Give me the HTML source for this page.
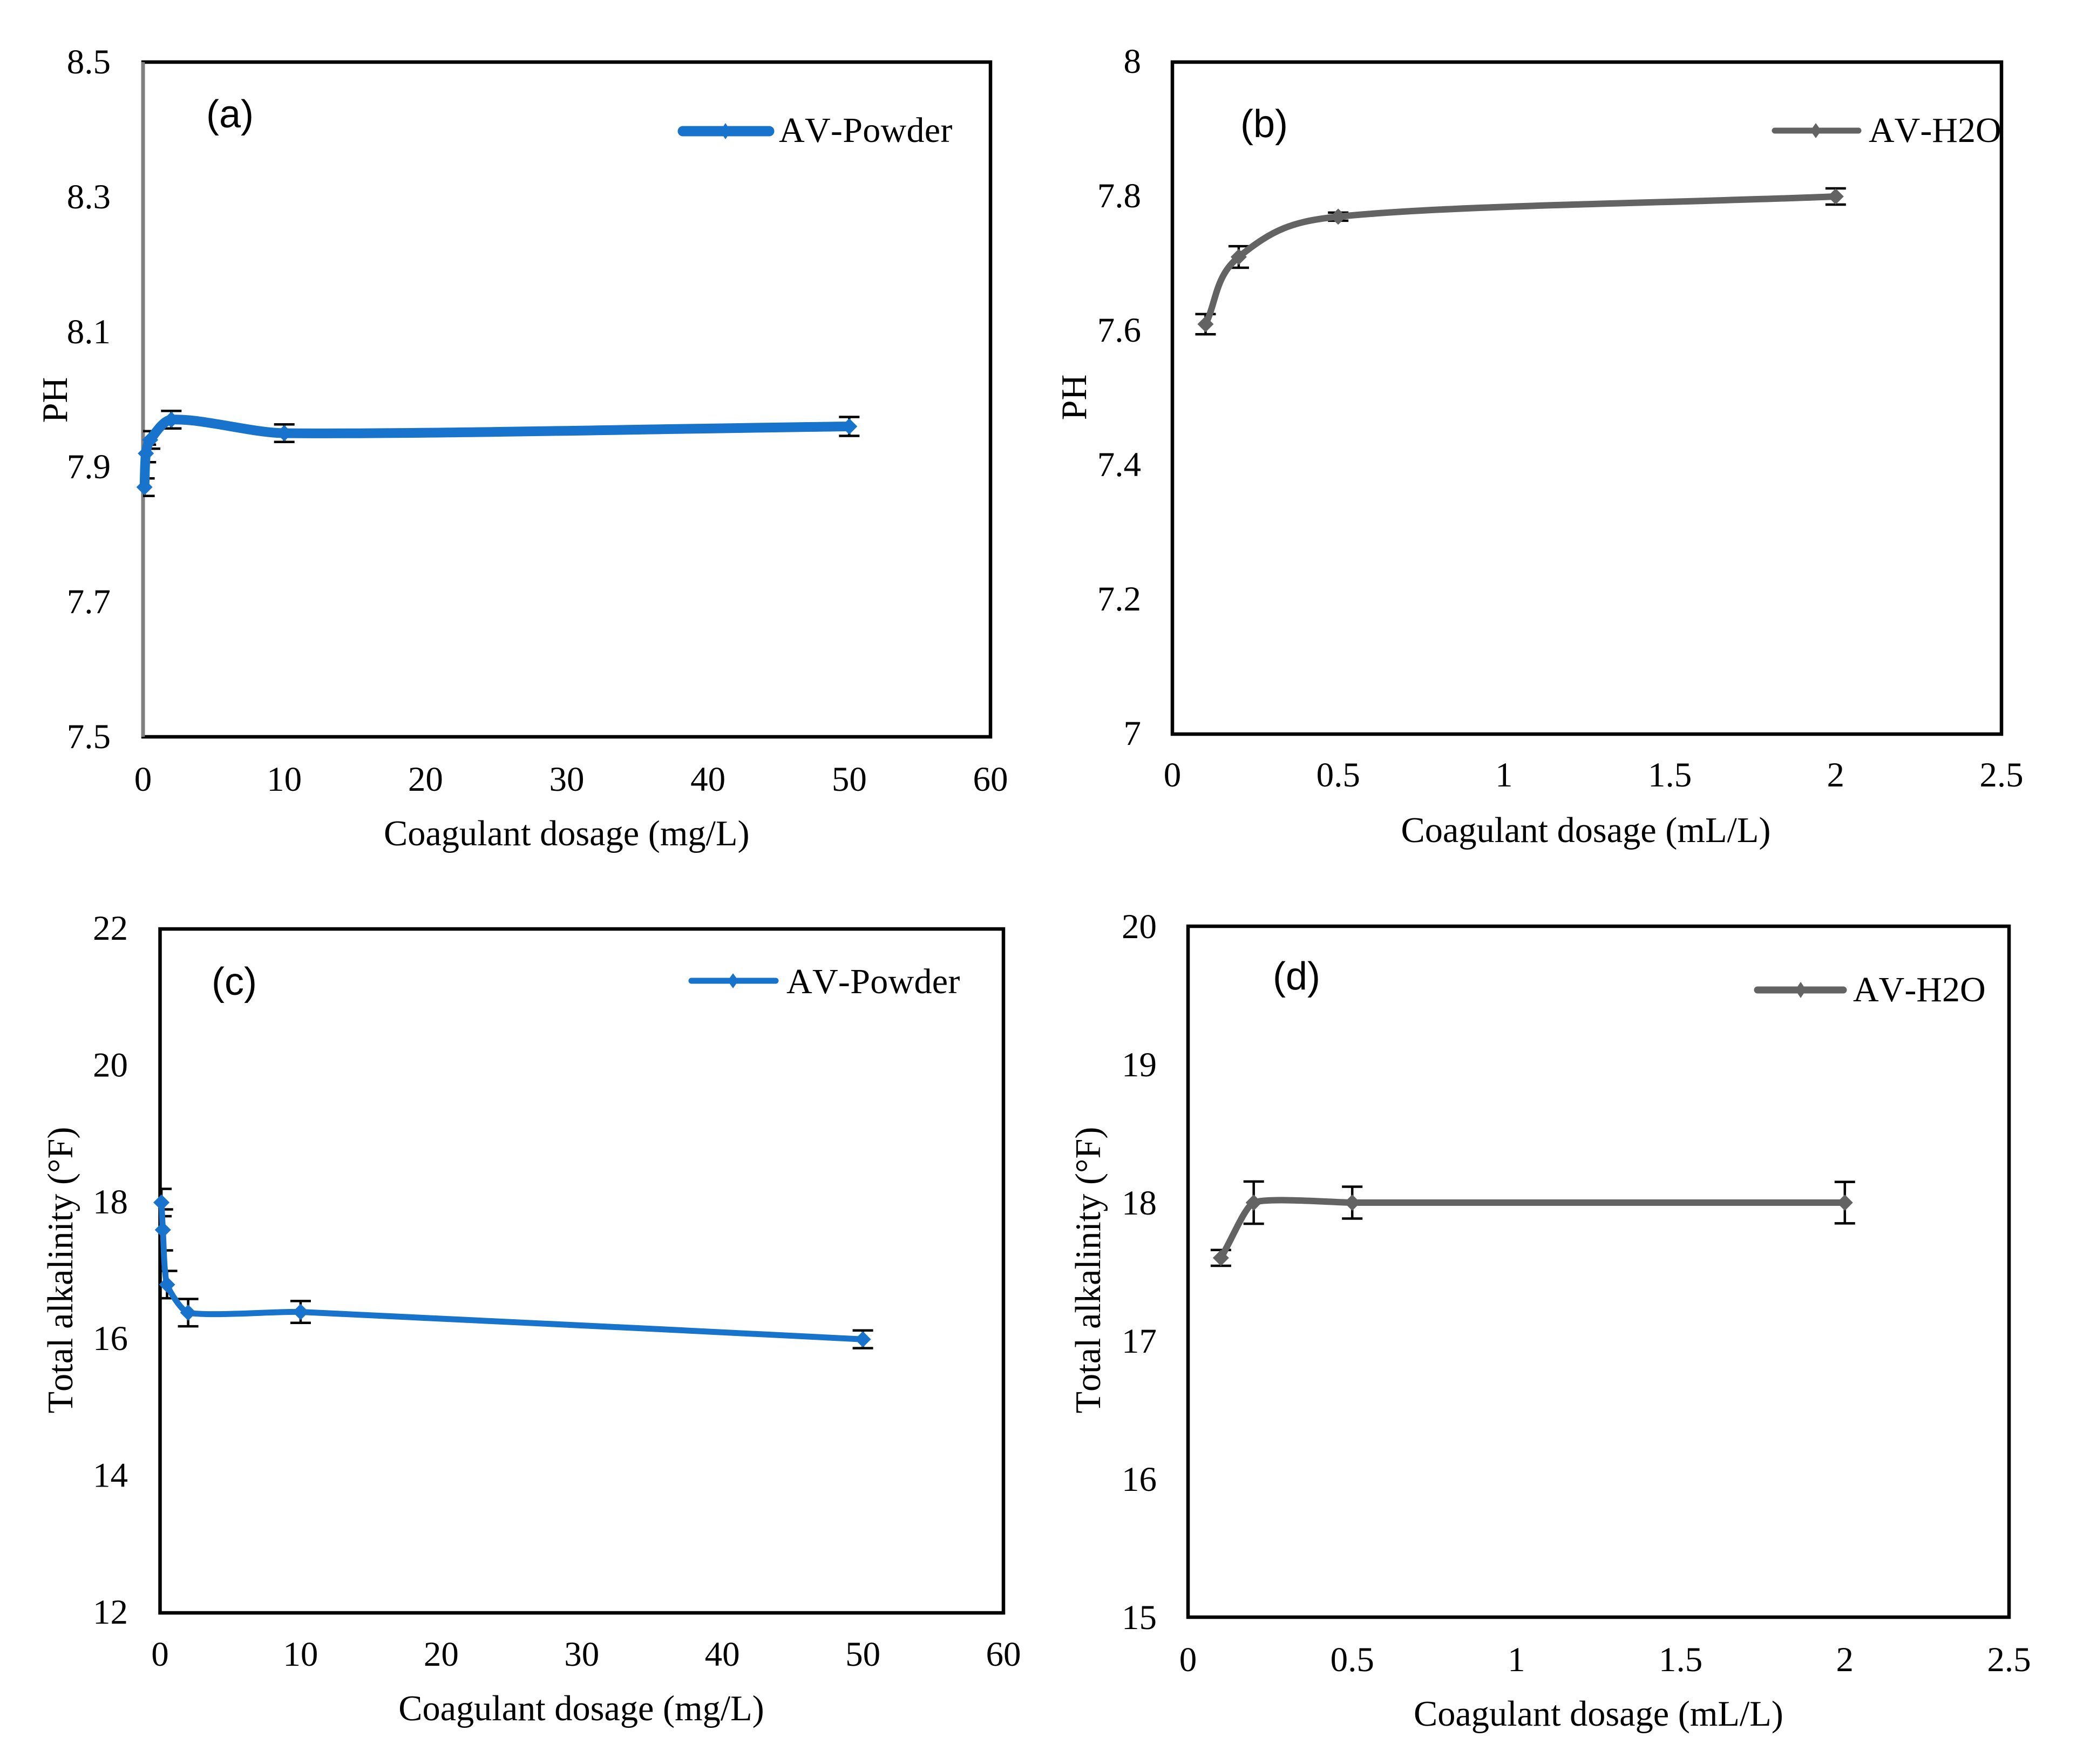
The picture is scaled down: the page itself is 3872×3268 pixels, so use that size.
<!DOCTYPE html>
<html lang="en">
<head>
<meta charset="utf-8">
<title>Coagulant dosage charts</title>
<style>
html,body{margin:0;padding:0;background:#fff;}
svg{display:block;}
text{font-family:"Liberation Serif",serif;fill:#000;font-kerning:none;}
.tick{font-size:65px;}
.title{font-size:66.3px;}
.legend{font-size:66px;}
.panel{font-family:"Liberation Sans",sans-serif;font-size:72px;}
</style>
</head>
<body>
<svg id="figure" xmlns="http://www.w3.org/2000/svg" width="3872" height="3268" viewBox="0 0 3872 3268">
<rect x="0" y="0" width="3872" height="3268" fill="#fff"/>

<g id="chart-a">
<text class="panel" x="426" y="236" text-anchor="middle">(a)</text>
<text class="title" x="711" y="1566">Coagulant dosage (mg/L)</text>
<text class="title" transform="translate(124 741) rotate(-90)" text-anchor="middle">PH</text>
<g>
<line x1="1265" y1="243" x2="1425" y2="243" stroke="#1873CC" stroke-width="19" stroke-linecap="round"/>
<polygon points="1344,228 1354,243 1344,258 1334,243" fill="#1873CC"/>
<text class="legend" x="1443" y="263" style="letter-spacing:0.3px">AV-Powder</text>
</g>
</g>

<g id="chart-b">
<text class="panel" x="2342" y="254" text-anchor="middle">(b)</text>
<text class="title" x="2938" y="1560" text-anchor="middle">Coagulant dosage (mL/L)</text>
<text class="title" transform="translate(2012 736) rotate(-90)" text-anchor="middle">PH</text>
<g>
<line x1="3288" y1="242" x2="3443" y2="242" stroke="#636363" stroke-width="11" stroke-linecap="round"/>
<polygon points="3364,228 3374,242 3364,256 3354,242" fill="#636363"/>
<text class="legend" x="3462" y="263">AV-H2O</text>
</g>
</g>

<g id="chart-c">
<text class="panel" x="434" y="1843" text-anchor="middle">(c)</text>
<text class="title" x="1077" y="3187" text-anchor="middle">Coagulant dosage (mg/L)</text>
<text class="title" transform="translate(134 2353) rotate(-90)" text-anchor="middle">Total alkalinity (°F)</text>
<g>
<line x1="1281" y1="1817" x2="1437" y2="1817" stroke="#1873CC" stroke-width="11" stroke-linecap="round"/>
<polygon points="1358,1803 1368,1817 1358,1831 1348,1817" fill="#1873CC"/>
<text class="legend" x="1457" y="1840" style="letter-spacing:0.3px">AV-Powder</text>
</g>
</g>

<g id="chart-d">
<text class="panel" x="2402" y="1833" text-anchor="middle">(d)</text>
<text class="title" x="2619" y="3197">Coagulant dosage (mL/L)</text>
<text class="title" transform="translate(2038 2353) rotate(-90)" text-anchor="middle">Total alkalinity (°F)</text>
<g>
<line x1="3256" y1="1834" x2="3415" y2="1834" stroke="#636363" stroke-width="13" stroke-linecap="round"/>
<polygon points="3336,1819 3346,1834 3336,1849 3326,1834" fill="#636363"/>
<text class="legend" x="3433" y="1855">AV-H2O</text>
</g>
</g>
</svg>

<script>
// Dosage categories
const powderDoses = [0.1, 0.2, 0.5, 2, 10, 50];
const h2oDoses = [0.1, 0.2, 0.5, 2];

// Series values and error magnitudes
const phPowder = [7.87, 7.92, 7.94, 7.97, 7.95, 7.96];
const phPowderErr = [0.013, 0.013, 0.013, 0.013, 0.013, 0.014];
const phH2o = [7.61, 7.71, 7.77, 7.80];
const phH2oErr = [0.015, 0.016, 0.006, 0.012];
const alkPowder = [18, 17.6, 16.8, 16.39, 16.4, 16];
const alkPowderErr = [0.2, 0.3, 0.2, 0.2, 0.16, 0.13];
const alkH2o = [17.6, 18, 18, 18];
const alkH2oErr = [0.057, 0.153, 0.115, 0.15];

// Tick labels
const xTicksPowder = ["0", "10", "20", "30", "40", "50", "60"];
const xTicksH2o = ["0", "0.5", "1", "1.5", "2", "2.5"];
const yTicksA = ["8.5", "8.3", "8.1", "7.9", "7.7", "7.5"];
const yTicksB = ["8", "7.8", "7.6", "7.4", "7.2", "7"];
const yTicksC = ["22", "20", "18", "16", "14", "12"];
const yTicksD = ["20", "19", "18", "17", "16", "15"];

const SVGNS = "http://www.w3.org/2000/svg";
const BLUE = "#1873CC";
const GRAY = "#636363";

function make(tag, attrs, parent) {
  const node = document.createElementNS(SVGNS, tag);
  for (const k in attrs) node.setAttribute(k, attrs[k]);
  parent.appendChild(node);
  return node;
}

// Excel-style smoothed path through pixel points
function smoothPath(p, tension) {
  const dist = (a, b) => Math.hypot(a[0] - b[0], a[1] - b[1]);
  let d = "M" + p[0][0] + " " + p[0][1];
  for (let i = 0; i < p.length - 1; i++) {
    const p0 = p[Math.max(i - 1, 0)], p1 = p[i], p2 = p[i + 1], p3 = p[Math.min(i + 2, p.length - 1)];
    const d01 = dist(p0, p1), d12 = dist(p1, p2), d23 = dist(p2, p3);
    const t = d12 > 400 ? Math.min(tension, 0.7) : tension;
    const s1 = d12 / (d01 + d12) / 3 * (i === 0 ? 1 : t);
    const s2 = d12 / (d12 + d23) / 3 * (i === p.length - 2 ? 1 : t);
    const c1 = [p1[0] + (p2[0] - p0[0]) * s1, p1[1] + (p2[1] - p0[1]) * s1];
    const c2 = [p2[0] - (p3[0] - p1[0]) * s2, p2[1] - (p3[1] - p1[1]) * s2];
    d += " C" + c1[0] + " " + c1[1] + " " + c2[0] + " " + c2[1] + " " + p2[0] + " " + p2[1];
  }
  return d;
}

function drawChart(cfg) {
  const root = document.getElementById(cfg.id);
  const xScale = v => cfg.left + (v - cfg.xMin) / (cfg.xMax - cfg.xMin) * (cfg.right - cfg.left);
  const yScale = v => cfg.bottom - (v - cfg.yMin) / (cfg.yMax - cfg.yMin) * (cfg.bottom - cfg.top);

  const frame = make("rect", {x: cfg.left, y: cfg.top, width: cfg.right - cfg.left, height: cfg.bottom - cfg.top, fill: "none", stroke: "#000", "stroke-width": 6.5}, root);
  
  
  if (cfg.grayLeft) {
    const leftAxis = make("line", {x1: cfg.left, y1: cfg.top, x2: cfg.left, y2: cfg.bottom, stroke: "#808080", "stroke-width": 6.5}, root);
    
    
  }

  cfg.xTicks.forEach(label => {
    const t = make("text", {x: xScale(parseFloat(label)), y: cfg.xTickBase, "text-anchor": "middle", class: "tick"}, root);
    t.textContent = label;
    
    
  });
  cfg.yTicks.forEach(label => {
    const t = make("text", {x: cfg.yTickRight, y: yScale(parseFloat(label)) + cfg.labelDy, "text-anchor": "end", class: "tick"}, root);
    t.textContent = label;
    
    
  });

  const clipId = "clip-" + cfg.id;
  const defs = make("defs", {}, root);
  const clip = make("clipPath", {id: clipId}, defs);
  make("rect", {x: cfg.left, y: cfg.top, width: cfg.right - cfg.left, height: cfg.bottom - cfg.top}, clip);

  const errGroup = make("g", {"clip-path": "url(#" + clipId + ")", stroke: "#000", "stroke-width": 4.5}, root);
  
  
  cfg.xs.forEach((xv, i) => {
    const x = xScale(xv), hi = yScale(cfg.ys[i] + cfg.errs[i]), lo = yScale(cfg.ys[i] - cfg.errs[i]);
    const err = make("path", {d: "M" + x + " " + hi + "V" + lo + "M" + (x - 19) + " " + hi + "H" + (x + 19) + "M" + (x - 19) + " " + lo + "H" + (x + 19), fill: "none"}, errGroup);
    
    
  });

  const pts = cfg.xs.map((xv, i) => [xScale(xv), yScale(cfg.ys[i])]);
  const line = make("path", {d: smoothPath(pts, cfg.tension), fill: "none", stroke: cfg.color, "stroke-width": cfg.lineWidth, "stroke-linejoin": "round"}, root);
  
  

  pts.forEach(pt => {
    const h = 15;
    const m = make("polygon", {points: pt[0] + "," + (pt[1] - h) + " " + (pt[0] + h) + "," + pt[1] + " " + pt[0] + "," + (pt[1] + h) + " " + (pt[0] - h) + "," + pt[1], fill: cfg.color}, root);
    
    
  });
}

drawChart({id: "chart-a", left: 265, right: 1835, top: 115, bottom: 1365, xMin: 0, xMax: 60, yMin: 7.5, yMax: 8.5,
  xs: powderDoses, ys: phPowder, errs: phPowderErr, xTicks: xTicksPowder, yTicks: yTicksA,
  xTickBase: 1465, yTickRight: 205, color: BLUE, lineWidth: 18, grayLeft: true, tension: 0.85, labelDy: 21});
drawChart({id: "chart-b", left: 2172, right: 3708, top: 115, bottom: 1360, xMin: 0, xMax: 2.5, yMin: 7, yMax: 8,
  xs: h2oDoses, ys: phH2o, errs: phH2oErr, xTicks: xTicksH2o, yTicks: yTicksB,
  xTickBase: 1457, yTickRight: 2114, color: GRAY, lineWidth: 12, tension: 1.3, labelDy: 20});
drawChart({id: "chart-c", left: 296.5, right: 1859, top: 1721, bottom: 2988, xMin: 0, xMax: 60, yMin: 12, yMax: 22,
  xs: powderDoses, ys: alkPowder, errs: alkPowderErr, xTicks: xTicksPowder, yTicks: yTicksC,
  xTickBase: 3086, yTickRight: 237, color: BLUE, lineWidth: 11, tension: 0.6, labelDy: 20});
drawChart({id: "chart-d", left: 2201, right: 3722, top: 1716, bottom: 2996, xMin: 0, xMax: 2.5, yMin: 15, yMax: 20,
  xs: h2oDoses, ys: alkH2o, errs: alkH2oErr, xTicks: xTicksH2o, yTicks: yTicksD,
  xTickBase: 3096, yTickRight: 2143, color: GRAY, lineWidth: 12, tension: 0.5, labelDy: 22});
</script>
</body>
</html>
